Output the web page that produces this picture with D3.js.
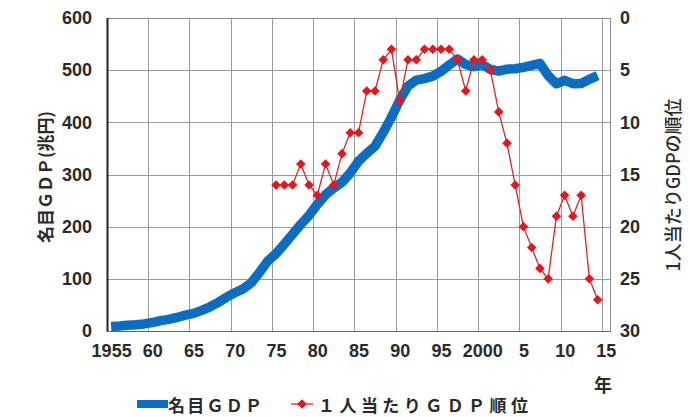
<!DOCTYPE html>
<html><head><meta charset="utf-8">
<script src="https://cdn.jsdelivr.net/npm/d3@7/dist/d3.min.js"></script>
<style>body{margin:0;background:#fff}svg{display:block}</style>
</head><body><svg id="c" width="690" height="417"></svg>
<script>
// ---- data ----
const gdpYears = d3.range(1955, 2015);
const gdpValues = [8.6, 9.7, 11.2, 11.9, 13.6, 16.2, 19.9, 22.2, 25.9, 30.3,
  33.8, 39.5, 46.4, 54.9, 64.9, 73.3, 80.7, 92.4, 112.5, 134.2,
  148.3, 166.6, 185.6, 204.4, 221.5, 242.8, 261.1, 274.1, 285.1, 302.9,
  325.4, 340.6, 354.2, 380.7, 410.1, 442.8, 469.4, 480.8, 483.7, 488.5,
  497.7, 509.9, 521.3, 510.9, 506.6, 510.8, 501.7, 498.0, 501.9, 502.8,
  505.3, 509.1, 513.0, 489.5, 473.9, 480.5, 474.2, 474.4, 482.4, 489.6];
const rankYears = d3.range(1975, 2015);
const rankValues = [16, 16, 16, 14, 16, 17, 14, 16, 13, 11,
  11, 7, 7, 4, 3, 8, 4, 4, 3, 3,
  3, 3, 4, 7, 4, 4, 5, 9, 12, 16,
  20, 22, 24, 25, 19, 17, 19, 17, 25, 27];
const xTickYears = [1955, 1960, 1965, 1970, 1975, 1980, 1985, 1990, 1995, 2000, 2005, 2010, 2015];
const xTickLabels = ["1955", "60", "65", "70", "75", "80", "85", "90", "95", "2000", "5", "10", "15"];
const leftTicks = [0, 100, 200, 300, 400, 500, 600];
const rightTicks = [0, 5, 10, 15, 20, 25, 30];
const gdpName = "名目ＧＤＰ";
const rankName = "１人当たりＧＤＰ順位";
const leftTitle = "名目ＧＤＰ(兆円)";
const rightTitle = "1人当たりGDPの順位";
const xUnit = "年";

// ---- layout ----
const L = 107, R = 610, T = 18, B = 331;
const blue = "#0a6cc2", red = "#e8151b";
const numFont = "'Liberation Sans', Arial, sans-serif";
const cjkFont = "'Noto Sans CJK JP', sans-serif";

const svg = d3.select("#c");
const x = d3.scaleLinear().domain([1954.5, 2015.5]).range([L, R]);
const yL = d3.scaleLinear().domain([0, 600]).range([B, T]);
const yR = d3.scaleLinear().domain([0, 30]).range([T, B]);

// grid
const grid = svg.append("g").attr("stroke", "#9a9a9a").attr("stroke-width", 1);
grid.selectAll(".h").data(leftTicks.filter(d => d > 0 && d < 600)).join("line")
  .attr("x1", L).attr("x2", R).attr("y1", d => Math.round(yL(d)) + 0.5).attr("y2", d => Math.round(yL(d)) + 0.5);
grid.selectAll(".v").data(xTickYears.slice(1)).join("line")
  .attr("y1", T).attr("y2", B).attr("x1", d => Math.round(x(d - 0.5)) + 0.5).attr("x2", d => Math.round(x(d - 0.5)) + 0.5);

// frame
svg.append("rect").attr("x", L + 0.5).attr("y", T + 0.5).attr("width", R - L).attr("height", B - T)
  .attr("fill", "none").attr("stroke", "#8a8a8a");
svg.append("line").attr("x1", L + 0.5).attr("x2", L + 0.5).attr("y1", T).attr("y2", B + 1)
  .attr("stroke", "#222").attr("stroke-width", 2);
svg.append("line").attr("x1", L).attr("x2", R).attr("y1", B + 0.5).attr("y2", B + 0.5)
  .attr("stroke", "#666").attr("stroke-width", 1.2);

// axes
function styleAxis(g) {
  g.select(".domain").remove();
  g.selectAll("text").attr("font-family", numFont).attr("font-size", 18)
    .attr("font-weight", "bold").attr("fill", "#2a2a2a");
}
svg.append("g").attr("transform", `translate(${L},0)`)
  .call(d3.axisLeft(yL).tickValues(leftTicks).tickSize(0).tickPadding(15)).call(styleAxis);
svg.append("g").attr("transform", `translate(${R},0)`)
  .call(d3.axisRight(yR).tickValues(rightTicks).tickSize(0).tickPadding(10)).call(styleAxis);
svg.append("g").attr("transform", `translate(0,${B})`)
  .call(d3.axisBottom(x).tickValues(xTickYears).tickFormat((d, i) => xTickLabels[i]).tickSize(0).tickPadding(13))
  .call(styleAxis);

// GDP line
svg.append("path").datum(gdpYears.map((yr, i) => [yr, gdpValues[i]]))
  .attr("fill", "none").attr("stroke", blue).attr("stroke-width", 9.5)
  .attr("stroke-linejoin", "round")
  .attr("d", d3.line().x(d => x(d[0])).y(d => yL(d[1])));

// rank line
const rankData = rankYears.map((yr, i) => [yr, rankValues[i]]);
svg.append("path").datum(rankData)
  .attr("fill", "none").attr("stroke", "#d8262b").attr("stroke-width", 1.3)
  .attr("d", d3.line().x(d => x(d[0])).y(d => yR(d[1])));
const diamond = d3.symbol().type(d3.symbolSquare).size(46);
svg.append("g").selectAll("path").data(rankData).join("path")
  .attr("d", diamond)
  .attr("transform", d => `translate(${x(d[0])},${yR(d[1])}) rotate(45)`)
  .attr("fill", red);

// titles
svg.append("text").attr("transform", "translate(44,177) rotate(-90)")
  .attr("text-anchor", "middle").attr("dominant-baseline", "central")
  .attr("font-family", cjkFont).attr("font-weight", "bold").attr("font-size", 17).attr("fill", "#2a2a2a")
  .text(leftTitle);
svg.append("text").attr("transform", "translate(672,185) rotate(-90)")
  .attr("text-anchor", "middle").attr("dominant-baseline", "central")
  .attr("font-family", cjkFont).attr("font-weight", "500").attr("font-size", 18).attr("fill", "#2a2a2a")
  .text(rightTitle);
svg.append("text").attr("x", 603).attr("y", 384).attr("text-anchor", "middle").attr("dominant-baseline", "central")
  .attr("font-family", cjkFont).attr("font-weight", "bold").attr("font-size", 18).attr("fill", "#2a2a2a")
  .text(xUnit);

// legend
const LY = 404;
const lg = svg.append("g");
lg.append("line").attr("x1", 137).attr("x2", 168).attr("y1", LY).attr("y2", LY)
  .attr("stroke", blue).attr("stroke-width", 8);
lg.append("text").attr("x", 168).attr("y", LY).attr("dominant-baseline", "central")
  .attr("font-family", cjkFont).attr("font-weight", "bold").attr("font-size", 17).attr("fill", "#2a2a2a")
  .attr("textLength", 94).attr("lengthAdjust", "spacing")
  .text(gdpName);
lg.append("line").attr("x1", 291).attr("x2", 313).attr("y1", LY).attr("y2", LY)
  .attr("stroke", "#d8262b").attr("stroke-width", 1.3);
lg.append("path").attr("d", diamond).attr("transform", `translate(302,${LY}) rotate(45)`).attr("fill", red);
lg.append("text").attr("x", 318).attr("y", LY).attr("dominant-baseline", "central")
  .attr("font-family", cjkFont).attr("font-weight", "bold").attr("font-size", 17).attr("fill", "#2a2a2a")
  .attr("textLength", 210).attr("lengthAdjust", "spacing")
  .text(rankName);
</script></body></html>
